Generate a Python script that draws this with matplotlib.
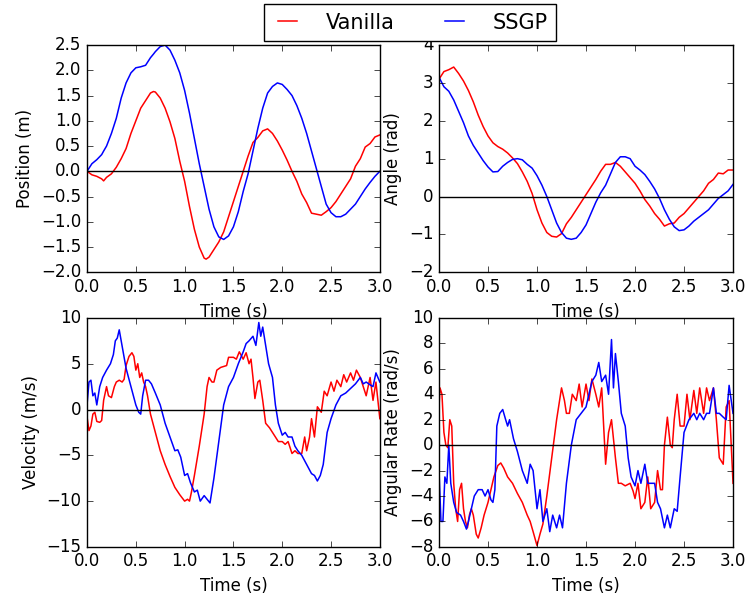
import matplotlib
matplotlib.use("Agg")
import matplotlib.pyplot as plt

# Datos
t_pos = [0.0, 0.05, 0.1, 0.15, 0.17, 0.2, 0.25, 0.3, 0.35, 0.4, 0.45, 0.5, 0.55, 0.6, 0.65, 0.68,
         0.7, 0.75, 0.8, 0.85, 0.9, 0.95, 1.0, 1.05, 1.1, 1.15, 1.2, 1.22, 1.25, 1.3, 1.35, 1.4,
         1.45, 1.5, 1.55, 1.6, 1.65, 1.7, 1.75, 1.8, 1.85, 1.9, 1.95, 2.0, 2.05, 2.1, 2.15, 2.2,
         2.25, 2.3, 2.35, 2.4, 2.45, 2.5, 2.55, 2.6, 2.65, 2.7, 2.75, 2.8, 2.85, 2.9, 2.95, 3.0]
pos_vanilla = [0.0, -0.07, -0.1, -0.15, -0.19, -0.12, -0.05, 0.08, 0.25, 0.45, 0.75, 1.0, 1.25, 1.4,
               1.55, 1.58, 1.57, 1.45, 1.25, 0.98, 0.65, 0.2, -0.2, -0.7, -1.15, -1.5, -1.72, -1.74,
               -1.7, -1.55, -1.4, -1.2, -0.9, -0.6, -0.3, 0.0, 0.3, 0.57, 0.67, 0.8, 0.84, 0.75, 0.6,
               0.42, 0.22, 0.0, -0.2, -0.45, -0.62, -0.83, -0.85, -0.87, -0.8, -0.72, -0.6, -0.45,
               -0.3, -0.15, 0.1, 0.25, 0.48, 0.55, 0.68, 0.72]
pos_ssgp = [0.0, 0.15, 0.23, 0.33, 0.4, 0.5, 0.75, 1.05, 1.45, 1.75, 1.95, 2.05, 2.07, 2.1, 2.25, 2.32,
            2.37, 2.47, 2.5, 2.4, 2.2, 1.95, 1.6, 1.15, 0.65, 0.15, -0.3, -0.48, -0.75, -1.1, -1.3,
            -1.35, -1.28, -1.1, -0.8, -0.4, -0.05, 0.4, 0.85, 1.25, 1.55, 1.68, 1.75, 1.72, 1.62,
            1.5, 1.3, 1.05, 0.75, 0.4, 0.05, -0.3, -0.65, -0.82, -0.9, -0.9, -0.85, -0.75, -0.65,
            -0.5, -0.35, -0.22, -0.1, 0.0]

t_ang = [0.0, 0.05, 0.1, 0.15, 0.2, 0.25, 0.3, 0.35, 0.4, 0.45, 0.5, 0.55, 0.6, 0.65, 0.7, 0.75,
         0.8, 0.85, 0.9, 0.95, 1.0, 1.05, 1.1, 1.15, 1.2, 1.25, 1.3, 1.35, 1.4, 1.45, 1.5, 1.55,
         1.6, 1.65, 1.7, 1.75, 1.8, 1.85, 1.9, 1.95, 2.0, 2.05, 2.1, 2.15, 2.2, 2.25, 2.3, 2.35,
         2.4, 2.45, 2.5, 2.55, 2.6, 2.65, 2.7, 2.75, 2.8, 2.85, 2.9, 2.95, 3.0]
ang_vanilla = [3.1, 3.3, 3.35, 3.42, 3.25, 3.05, 2.8, 2.5, 2.15, 1.85, 1.6, 1.42, 1.32, 1.25, 1.15,
               1.02, 0.87, 0.65, 0.4, 0.08, -0.35, -0.7, -0.95, -1.05, -1.07, -0.98, -0.72, -0.55,
               -0.35, -0.15, 0.05, 0.25, 0.45, 0.67, 0.85, 0.85, 0.9, 0.8, 0.65, 0.5, 0.35, 0.15,
               -0.08, -0.25, -0.45, -0.6, -0.78, -0.72, -0.7, -0.55, -0.45, -0.3, -0.15, 0.0, 0.15,
               0.35, 0.45, 0.62, 0.6, 0.7, 0.7]
ang_ssgp = [3.15, 2.9, 2.78, 2.55, 2.25, 1.95, 1.6, 1.35, 1.15, 0.95, 0.78, 0.65, 0.66, 0.8, 0.9,
            0.98, 1.0, 0.97, 0.85, 0.75, 0.55, 0.3, 0.0, -0.35, -0.7, -0.95, -1.1, -1.13, -1.1,
            -0.95, -0.75, -0.45, -0.15, 0.1, 0.3, 0.6, 0.9, 1.05, 1.05, 1.0, 0.8, 0.7, 0.58, 0.4,
            0.2, -0.05, -0.35, -0.6, -0.8, -0.9, -0.88, -0.78, -0.65, -0.55, -0.45, -0.35, -0.2,
            -0.05, 0.05, 0.15, 0.32]

t_vel_vanilla = [0.0, 0.02, 0.04, 0.06, 0.08, 0.1, 0.13, 0.15, 0.17, 0.2, 0.22, 0.25, 0.28, 0.3,
                 0.33, 0.36, 0.38, 0.4, 0.43, 0.46, 0.48, 0.5, 0.52, 0.54, 0.56, 0.58, 0.6, 0.62,
                 0.65, 0.7, 0.75, 0.8, 0.85, 0.9, 0.95, 1.0, 1.03, 1.05, 1.07, 1.1, 1.15, 1.2, 1.23,
                 1.25, 1.28, 1.3, 1.33, 1.37, 1.4, 1.43, 1.45, 1.5, 1.53, 1.56, 1.6, 1.63, 1.66,
                 1.68, 1.7, 1.72, 1.75, 1.77, 1.8, 1.83, 1.87, 1.9, 1.93, 1.96, 2.0, 2.03, 2.06,
                 2.1, 2.13, 2.16, 2.2, 2.23, 2.25, 2.28, 2.3, 2.33, 2.36, 2.4, 2.43, 2.46, 2.5,
                 2.53, 2.56, 2.6, 2.63, 2.66, 2.7, 2.73, 2.76, 2.8, 2.83, 2.86, 2.9, 2.93, 2.96, 3.0]
vel_vanilla = [-0.8, -2.3, -1.8, -0.5, -0.3, -1.3, -1.4, -1.2, 1.0, 2.5, 1.5, 1.3, 2.5, 3.0, 3.2,
               3.0, 3.3, 4.8, 5.8, 6.2, 5.8, 4.3, 5.0, 3.5, 4.0, 3.0, 2.5, 1.5, -0.5, -2.5, -4.5,
               -6.0, -7.3, -8.5, -9.3, -10.0, -9.8, -10.0, -9.0, -7.2, -4.0, -0.5, 2.5, 3.5, 3.0,
               3.0, 4.3, 4.6, 4.7, 4.8, 5.7, 5.7, 5.5, 6.3, 5.5, 6.2, 5.0, 5.5, 3.5, 1.2, 3.0, 3.2,
               1.0, -1.5, -2.0, -2.5, -3.0, -3.5, -3.5, -3.8, -3.5, -4.8, -4.5, -4.8, -4.8, -3.0,
               -4.5, -3.0, -1.0, -3.0, 0.3, -0.3, 2.0, 1.5, 3.0, 2.0, 3.2, 2.5, 3.8, 3.0, 4.0, 3.2,
               4.3, 3.5, 2.5, 1.5, 3.5, 1.0, 3.0, -1.0]
t_vel_ssgp = [0.0, 0.02, 0.04, 0.06, 0.08, 0.1, 0.13, 0.16, 0.2, 0.24, 0.27, 0.29, 0.31, 0.33, 0.35,
              0.4, 0.45, 0.5, 0.53, 0.55, 0.57, 0.6, 0.63, 0.66, 0.7, 0.75, 0.8, 0.85, 0.9, 0.93,
              0.96, 1.0, 1.03, 1.06, 1.1, 1.13, 1.16, 1.2, 1.23, 1.26, 1.3, 1.35, 1.4, 1.45, 1.5,
              1.55, 1.6, 1.63, 1.66, 1.7, 1.73, 1.76, 1.78, 1.8, 1.83, 1.86, 1.9, 1.93, 1.96, 2.0,
              2.03, 2.06, 2.1, 2.13, 2.16, 2.2, 2.25, 2.3, 2.33, 2.36, 2.39, 2.42, 2.46, 2.5, 2.55,
              2.6, 2.65, 2.7, 2.75, 2.8, 2.83, 2.86, 2.9, 2.93, 2.96, 3.0]
vel_ssgp = [0.5, 3.0, 3.2, 1.5, 1.8, 0.5, 2.5, 3.5, 4.3, 5.0, 6.0, 7.5, 7.8, 8.7, 7.5, 4.5, 2.5,
            0.5, -0.3, -0.5, 1.5, 3.2, 3.2, 2.8, 1.8, 0.5, -1.5, -3.0, -4.5, -4.4, -5.2, -7.2,
            -7.0, -8.0, -9.0, -8.8, -10.0, -9.4, -9.8, -10.2, -7.5, -3.5, 0.5, 2.5, 3.5, 5.0, 6.3,
            7.2, 7.5, 8.0, 7.0, 9.5, 8.0, 9.0, 7.0, 5.0, 3.5, 0.5, -1.5, -2.8, -2.5, -3.0, -3.0,
            -4.0, -4.5, -5.0, -6.0, -7.0, -7.2, -7.8, -7.2, -6.0, -2.5, -1.0, 0.5, 1.5, 1.8, 2.3,
            2.8, 3.5, 2.8, 3.0, 2.7, 2.5, 4.0, 3.0]

t_rate_vanilla = [0.0, 0.01, 0.03, 0.05, 0.07, 0.09, 0.11, 0.13, 0.15, 0.17, 0.19, 0.21, 0.23, 0.25,
                  0.27, 0.29, 0.31, 0.33, 0.35, 0.38, 0.4, 0.43, 0.46, 0.5, 0.53, 0.56, 0.6, 0.63,
                  0.66, 0.7, 0.75, 0.8, 0.85, 0.9, 0.93, 0.96, 1.0, 1.03, 1.06, 1.1, 1.15, 1.2, 1.25,
                  1.28, 1.3, 1.33, 1.36, 1.4, 1.43, 1.46, 1.5, 1.53, 1.56, 1.6, 1.63, 1.66, 1.7,
                  1.73, 1.76, 1.8, 1.83, 1.86, 1.9, 1.95, 1.98, 2.0, 2.03, 2.06, 2.1, 2.13, 2.16,
                  2.2, 2.23, 2.26, 2.28, 2.3, 2.33, 2.36, 2.38, 2.4, 2.43, 2.46, 2.5, 2.53, 2.56,
                  2.6, 2.63, 2.66, 2.7, 2.73, 2.76, 2.8, 2.83, 2.86, 2.9, 2.93, 2.96, 3.0]
rate_vanilla = [3.0, 4.5, 4.0, 1.0, 0.0, -0.2, 2.0, 1.5, -3.0, -5.0, -6.0, -3.5, -3.0, -5.0, -6.0,
                -6.5, -5.5, -5.0, -5.5, -7.0, -7.3, -6.5, -5.5, -4.5, -3.5, -2.5, -1.6, -1.4, -1.8,
                -2.5, -3.0, -3.8, -4.5, -5.5, -6.0, -6.8, -7.9, -7.0, -6.2, -4.0, -1.0, 2.0, 4.5,
                3.5, 2.5, 2.5, 4.0, 3.5, 4.8, 3.0, 4.8, 3.5, 5.2, 4.0, 3.0, 4.5, -1.5, 1.0, 2.0,
                -1.0, -3.0, -3.0, -3.2, -3.0, -3.6, -4.2, -3.0, -5.0, -4.5, -2.5, -5.0, -4.5, -2.0,
                -3.5, -3.5, 0.0, 2.2, 0.0, -0.2, 2.0, 4.0, 1.5, 1.5, 4.0, 2.0, 4.3, 2.5, 4.5, 2.5,
                4.5, 3.5, 4.5, 2.0, -1.0, -1.5, 3.0, 3.5, -3.0]
t_rate_ssgp = [0.0, 0.02, 0.04, 0.06, 0.08, 0.1, 0.12, 0.15, 0.18, 0.22, 0.25, 0.28, 0.3, 0.33, 0.36,
               0.4, 0.44, 0.47, 0.5, 0.53, 0.55, 0.57, 0.59, 0.62, 0.65, 0.68, 0.7, 0.72, 0.76, 0.8,
               0.85, 0.9, 0.93, 0.96, 1.0, 1.03, 1.06, 1.1, 1.13, 1.16, 1.2, 1.23, 1.26, 1.3, 1.35,
               1.4, 1.45, 1.5, 1.53, 1.56, 1.6, 1.63, 1.66, 1.7, 1.73, 1.76, 1.78, 1.8, 1.83, 1.86,
               1.9, 1.93, 1.96, 2.0, 2.03, 2.06, 2.1, 2.13, 2.16, 2.2, 2.23, 2.26, 2.3, 2.33, 2.36,
               2.4, 2.43, 2.46, 2.5, 2.55, 2.6, 2.63, 2.66, 2.7, 2.73, 2.76, 2.8, 2.83, 2.86, 2.9,
               2.93, 2.96, 3.0]
rate_ssgp = [-2.0, -6.0, -6.0, -2.5, -3.0, 0.0, -3.0, -4.5, -5.3, -5.5, -6.0, -6.6, -6.0, -5.0,
             -4.0, -3.5, -3.5, -4.0, -3.5, -4.3, -4.5, -3.5, 1.5, 2.5, 2.8, 2.0, 1.5, 2.0, 0.5,
             -0.5, -2.0, -3.0, -1.5, -2.0, -5.0, -3.5, -6.0, -5.0, -6.8, -5.5, -6.5, -5.5, -6.5,
             -3.0, 0.0, 2.0, 2.5, 3.0, 4.0, 5.0, 5.5, 6.5, 5.0, 5.5, 4.0, 8.3, 4.5, 7.2, 5.0, 2.5,
             1.5, -1.0, -2.5, -3.2, -2.0, -3.0, -1.5, -3.0, -3.0, -3.0, -4.5, -5.0, -6.5, -5.5,
             -6.5, -5.0, -5.2, -2.5, 1.0, 2.0, 2.5, 2.0, 2.5, 2.0, 2.5, 2.5, 4.5, 2.5, 2.5, 2.2,
             2.0, 4.7, 2.5]

plt.style.use('classic')
plt.rcParams['figure.facecolor'] = 'white'
plt.rcParams['savefig.facecolor'] = 'white'

fig = plt.figure(figsize=(7.47, 6.01), dpi=100)
ax_pos = fig.add_axes([0.1165, 0.547, 0.392, 0.378])
ax_ang = fig.add_axes([0.5877, 0.547, 0.3936, 0.378])
ax_vel = fig.add_axes([0.1165, 0.09, 0.392, 0.381])
ax_rate = fig.add_axes([0.5877, 0.09, 0.3936, 0.381])

paneles = [
    (ax_pos, t_pos, pos_vanilla, t_pos, pos_ssgp, "Position (m)", (-2.0, 2.5)),
    (ax_ang, t_ang, ang_vanilla, t_ang, ang_ssgp, "Angle (rad)", (-2, 4)),
    (ax_vel, t_vel_vanilla, vel_vanilla, t_vel_ssgp, vel_ssgp, "Velocity (m/s)", (-15, 10)),
    (ax_rate, t_rate_vanilla, rate_vanilla, t_rate_ssgp, rate_ssgp, "Angular Rate (rad/s)", (-8, 10)),
]

for ax, tv, yv, ts, ys, etiqueta, lims in paneles:
    ax.plot(tv, yv, color='r', lw=1.1, label='Vanilla')
    ax.plot(ts, ys, color='b', lw=1.1, label='SSGP')
    ax.axhline(0, color='k', lw=1)
    ax.set_xlim(0, 3)
    ax.set_ylim(*lims)
    ax.set_xlabel("Time (s)")
    ax.set_ylabel(etiqueta)

# leyenda comun arriba
h, l = ax_pos.get_legend_handles_labels()
fig.legend(h, l, loc='upper center', bbox_to_anchor=(0.549, 0.993), ncol=2, fontsize=15,
           handlelength=1.5, handletextpad=1.1, columnspacing=2.1, borderaxespad=0)

fig.savefig("out.png", dpi=100)
